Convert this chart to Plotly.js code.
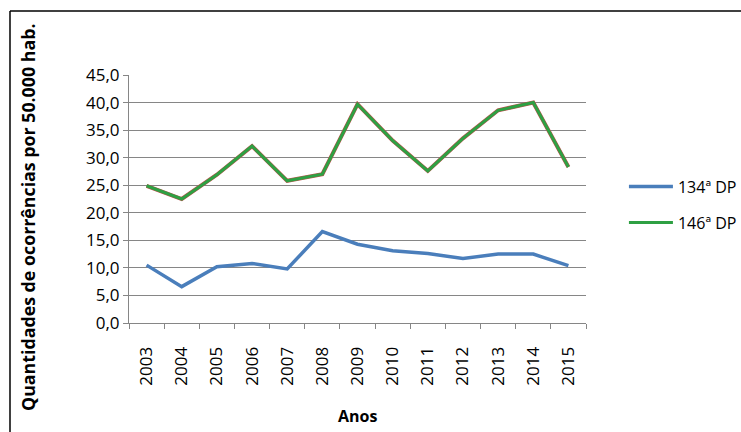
<!DOCTYPE html>
<html>
<head>
<meta charset="utf-8">
<script src="https://cdn.plot.ly/plotly-3.0.1.min.js"></script>
<style>html,body{margin:0;padding:0;background:#fff;}#chart{width:741px;height:432px;}</style>
</head>
<body>
<div id="chart"></div>
<script>
const years = ["2003","2004","2005","2006","2007","2008","2009","2010","2011","2012","2013","2014","2015"];
const dp134 = [10.5, 6.6, 10.2, 10.8, 9.8, 16.6, 14.3, 13.1, 12.6, 11.7, 12.5, 12.5, 10.4];
const dp146 = [24.9, 22.5, 26.9, 32.1, 25.8, 27.0, 39.7, 33.1, 27.6, 33.5, 38.6, 40.0, 28.3];
const seriesNames = ["134ª DP", "146ª DP"];
const yTicks = [0,5,10,15,20,25,30,35,40,45];
const xTitle = "Anos";
const yTitle = "Quantidades de ocorrências por 50.000 hab.";

const font = "Open Sans, Noto Sans, sans-serif";
const traces = [
  {x: years, y: dp134, type: "scatter", mode: "lines", name: seriesNames[0], legendgroup: "a",
   line: {color: "#4a7ebb", width: 3.5}},
  {x: years, y: dp146, type: "scatter", mode: "lines", showlegend: false, hoverinfo: "skip", legendgroup: "b",
   line: {color: "#c0504d", width: 4}},
  {x: years, y: dp146, type: "scatter", mode: "lines", name: seriesNames[1], legendgroup: "b",
   line: {color: "#2ea043", width: 3}}
];
const layout = {
  width: 741, height: 432,
  margin: {l: 129, r: 155, t: 75, b: 109, autoexpand: false},
  paper_bgcolor: "#fff", plot_bgcolor: "#fff",
  separators: ",.",
  font: {family: font, size: 16, color: "#000"},
  showlegend: true,
  legend: {x: 1.083, y: 0.477, xanchor: "left", yanchor: "middle", traceorder: "grouped",
           font: {family: font, size: 16, color: "#000"}, tracegroupgap: 12, itemwidth: 44},
  xaxis: {
    type: "category", tickangle: -90, showgrid: false, range: [-0.5, 12.5],
    showline: true, linecolor: "#868686", linewidth: 1,
    ticks: "outside", tickson: "boundaries", ticklen: 5, tickcolor: "#868686",
    tickfont: {family: font, size: 17}, ticklabelstandoff: 16,
    fixedrange: true
  },
  yaxis: {
    range: [0, 45], tickvals: yTicks, tickformat: ".1f",
    showgrid: true, gridcolor: "#868686", gridwidth: 1,
    showline: true, linecolor: "#868686", linewidth: 1,
    ticks: "outside", ticklen: 5, tickcolor: "#868686",
    tickfont: {family: font, size: 17},
    zeroline: false,
    fixedrange: true
  },
  annotations: [
    {text: xTitle, xref: "paper", yref: "paper", x: 0.5, y: -0.377, xanchor: "center", yanchor: "middle",
     showarrow: false, font: {family: font, size: 16, weight: "bold"}},
    {text: yTitle, xref: "paper", yref: "paper", x: -0.221, y: (323 - 217) / 248, xanchor: "center", yanchor: "middle",
     textangle: -90, showarrow: false, font: {family: font, size: 17.8, weight: "bold"}}
  ],
  shapes: [
    {type: "line", xref: "paper", yref: "paper", x0: -0.2604, x1: 1.4, y0: 1.258, y1: 1.258, line: {color: "#000", width: 1.5}},
    {type: "line", xref: "paper", yref: "paper", x0: -0.2604, x1: -0.2604, y0: 1.258, y1: -0.45, line: {color: "#000", width: 1.5}}
  ]
};
Plotly.newPlot("chart", traces, layout, {displayModeBar: false, staticPlot: true});
</script>
</body>
</html>
